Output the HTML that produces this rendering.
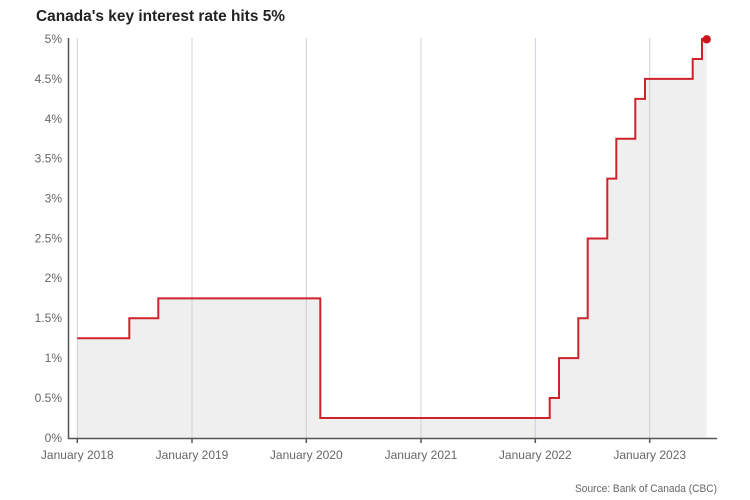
<!DOCTYPE html>
<html><head><meta charset="utf-8"><style>
html,body{margin:0;padding:0;background:#fff;}
body{width:750px;height:500px;overflow:hidden;}
svg{display:block;}
</style></head><body>
<svg width="750" height="500" viewBox="0 0 750 500" xmlns="http://www.w3.org/2000/svg">
<text x="36" y="21" font-family="Liberation Sans, sans-serif" font-size="15.5" font-weight="bold" fill="#222" textLength="249" lengthAdjust="spacingAndGlyphs">Canada's key interest rate hits 5%</text>
<!-- fill -->
<path d="M77.3,438 V338.25 H129.3 V318.3 H158.3 V298.35 H320.3 V418 H549.7 V398.05 H559 V358.1 H578.3 V318.3 H587.7 V238.5 H607.3 V178.65 H616.3 V138.75 H635.3 V98.85 H645 V78.9 H692.7 V58.95 H702 V39 H706.7 V438 Z" fill="#efefef"/>
<!-- gridlines -->
<g stroke="#c8d0d7" stroke-width="1">
<line x1="77.3" y1="38" x2="77.3" y2="438"/>
<line x1="192" y1="38" x2="192" y2="438"/>
<line x1="306.3" y1="38" x2="306.3" y2="438"/>
<line x1="421" y1="38" x2="421" y2="438"/>
<line x1="535.3" y1="38" x2="535.3" y2="438"/>
<line x1="649.7" y1="38" x2="649.7" y2="438"/>
</g>
<!-- line -->
<path d="M77.3,338.25 H129.3 V318.3 H158.3 V298.35 H320.3 V418 H549.7 V398.05 H559 V358.1 H578.3 V318.3 H587.7 V238.5 H607.3 V178.65 H616.3 V138.75 H635.3 V98.85 H645 V78.9 H692.7 V58.95 H702 V39 H706.7" fill="none" stroke="#d0222b" stroke-width="2"/>
<circle cx="706.7" cy="39.3" r="4.2" fill="#c8161f"/>
<!-- axes -->
<g stroke="#555" stroke-width="1.5">
<line x1="68.5" y1="38" x2="68.5" y2="439"/>
<line x1="68" y1="438.5" x2="717" y2="438.5"/>
<line x1="77.3" y1="438" x2="77.3" y2="443"/>
<line x1="192" y1="438" x2="192" y2="443"/>
<line x1="306.3" y1="438" x2="306.3" y2="443"/>
<line x1="421" y1="438" x2="421" y2="443"/>
<line x1="535.3" y1="438" x2="535.3" y2="443"/>
<line x1="649.7" y1="438" x2="649.7" y2="443"/>
</g>
<g font-family="Liberation Sans, sans-serif" font-size="12" fill="#666" text-anchor="end">
<text x="62" y="43">5%</text>
<text x="62" y="83">4.5%</text>
<text x="62" y="123">4%</text>
<text x="62" y="162.5">3.5%</text>
<text x="62" y="202.5">3%</text>
<text x="62" y="242.5">2.5%</text>
<text x="62" y="282">2%</text>
<text x="62" y="322">1.5%</text>
<text x="62" y="362">1%</text>
<text x="62" y="402">0.5%</text>
<text x="62" y="442">0%</text>
</g>
<g font-family="Liberation Sans, sans-serif" font-size="12" fill="#666" text-anchor="middle">
<text x="77.3" y="459">January 2018</text>
<text x="192" y="459">January 2019</text>
<text x="306.3" y="459">January 2020</text>
<text x="421" y="459">January 2021</text>
<text x="535.3" y="459">January 2022</text>
<text x="649.7" y="459">January 2023</text>
</g>
<text x="575" y="492" font-family="Liberation Sans, sans-serif" font-size="11" fill="#666" textLength="142" lengthAdjust="spacingAndGlyphs">Source: Bank of Canada (CBC)</text>
</svg>
</body></html>
